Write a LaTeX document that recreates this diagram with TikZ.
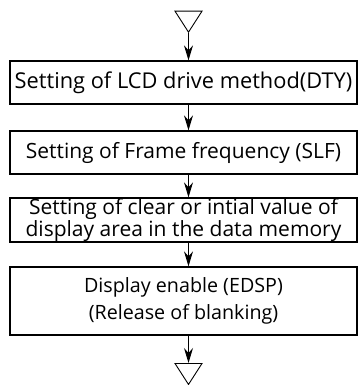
\documentclass[tikz,border=0pt]{standalone}
\usepackage{fontspec}
\setmainfont{Open Sans}
\usetikzlibrary{arrows.meta,shapes.geometric}
\begin{document}
\begin{tikzpicture}[x=1pt,y=1pt,
		box/.style={draw, line width=1.3pt, minimum width=347pt, inner sep=0pt, align=center, font=\fontsize{21.5}{27}\selectfont},
		tri/.style={draw, line width=0.9pt, isosceles triangle, isosceles triangle apex angle=65, shape border rotate=-90, isosceles triangle stretches, minimum width=27pt, minimum height=21pt, inner sep=0pt},
		arr/.style={line width=1pt, -{Stealth[length=15pt,width=9pt,inset=5pt]}}]
				\useasboundingbox (0,0) rectangle (359,-385);
					\node[tri, anchor=apex] (start) at (188.5,-33) {};
					\node[box, minimum height=43pt, font=\fontsize{21.8}{27}\selectfont] (dty) at (183.5,-82.5) {Setting of LCD drive method(DTY)};
					\node[box, minimum height=43pt, font=\fontsize{21}{27}\selectfont] (slf) at (183.5,-152.5) {Setting of Frame frequency (SLF)};
					\node[box, minimum height=44pt, font=\fontsize{21}{16.5}\selectfont] (clr) at (183.5,-220) {Setting of clear or intial value of\\display area in the data memory};
					\node[box, minimum height=68pt, font=\fontsize{19.7}{27}\selectfont] (edsp) at (183.5,-301) {Display enable (EDSP)\\(Release of blanking)};
					\node[tri, anchor=lower side] (stop) at (188.5,-363) {};
					\draw[arr] (start.apex) -- (start.apex |- dty.north);
					\draw[arr] (start.apex |- dty.south) -- (start.apex |- slf.north);
					\draw[arr] (start.apex |- slf.south) -- (start.apex |- clr.north);
					\draw[arr] (start.apex |- clr.south) -- (start.apex |- edsp.north);
					\draw[arr] (start.apex |- edsp.south) -- (stop.lower side);
			\end{tikzpicture}
\end{document}
